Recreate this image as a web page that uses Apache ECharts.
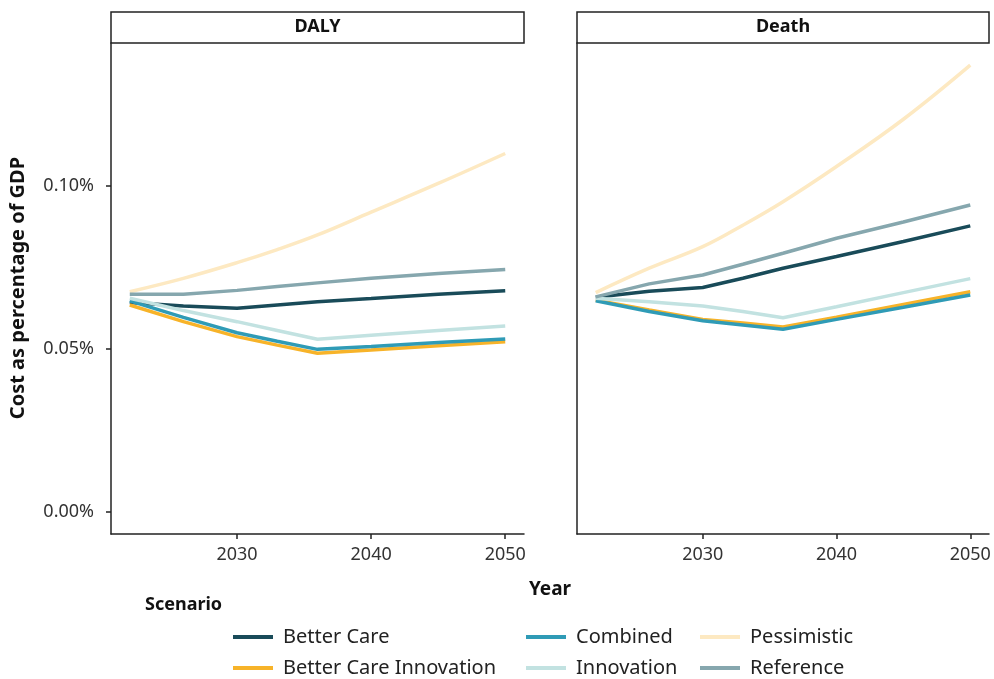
<!DOCTYPE html>
<html>
<head>
<meta charset="utf-8">
<script src="https://cdn.jsdelivr.net/npm/echarts@6/dist/echarts.min.js"></script>
<style>
  html, body { margin: 0; padding: 0; background: #fff; }
  #chart { width: 994px; height: 679px; }
</style>
</head>
<body>
<div id="chart"></div>
<script>
// 数据：年份与各情景（单位：% GDP）
var years = [2022, 2026, 2030, 2033, 2036, 2040, 2045, 2050];
var scenarios = ['Better Care', 'Better Care Innovation', 'Combined', 'Innovation', 'Pessimistic', 'Reference'];
var colors = ['#194b59', '#f7b329', '#2f9bb6', '#c2e2e1', '#fde9c2', '#86a7ae'];

var dalyBetterCare = [0.0643, 0.0632, 0.0625, 0.0635, 0.0645, 0.0655, 0.0668, 0.0679];
var dalyBetterCareInnovation = [0.0635, 0.0584, 0.0538, 0.0512, 0.0487, 0.0497, 0.0510, 0.0522];
var dalyCombined = [0.0648, 0.0597, 0.0550, 0.0524, 0.0499, 0.0508, 0.0520, 0.0531];
var dalyInnovation = [0.0656, 0.0618, 0.0584, 0.0557, 0.0530, 0.0542, 0.0557, 0.0571];
var dalyPessimistic = [0.0676, 0.0717, 0.0765, 0.0805, 0.0850, 0.0920, 0.1008, 0.1100];
var dalyReference = [0.0668, 0.0668, 0.0680, 0.0692, 0.0703, 0.0717, 0.0732, 0.0744];

var deathBetterCare = [0.0659, 0.0677, 0.0689, 0.0717, 0.0748, 0.0784, 0.0830, 0.0878];
var deathBetterCareInnovation = [0.0650, 0.0620, 0.0591, 0.0580, 0.0568, 0.0598, 0.0637, 0.0676];
var deathCombined = [0.0648, 0.0615, 0.0587, 0.0574, 0.0561, 0.0591, 0.0628, 0.0666];
var deathInnovation = [0.0656, 0.0645, 0.0632, 0.0615, 0.0596, 0.0630, 0.0673, 0.0716];
var deathPessimistic = [0.0673, 0.0748, 0.0814, 0.0880, 0.0952, 0.1060, 0.1205, 0.1371];
var deathReference = [0.0660, 0.0700, 0.0727, 0.0760, 0.0794, 0.0840, 0.0890, 0.0942];

var xTicks = [2030, 2040, 2050];
var yTicks = [0, 0.05, 0.10];
var panels = ['DALY', 'Death'];

var dalyData = [dalyBetterCare, dalyBetterCareInnovation, dalyCombined, dalyInnovation, dalyPessimistic, dalyReference];
var deathData = [deathBetterCare, deathBetterCareInnovation, deathCombined, deathInnovation, deathPessimistic, deathReference];

var FONT = '"Noto Sans", sans-serif';

function pairs(vals) {
	var out = [];
	for (var i = 0; i < years.length; i++) {
		out.push([years[i], vals[i]]);
	}
	return out;
}

var series = [];
[dalyData, deathData].forEach(function (set, g) {
	for (var i = 0; i < scenarios.length; i++) {
		series.push({
			name : scenarios[i],
			type : 'line',
			xAxisIndex : g,
			yAxisIndex : g,
			data : pairs(set[i]),
			showSymbol : false,
			// 悲观情景是平滑曲线
			smooth : scenarios[i] === 'Pessimistic' ? 0.4 : false,
			lineStyle : { width : 3.5, color : colors[i] },
			itemStyle : { color : colors[i] },
			emphasis : { disabled : true }
		});
	}
});

function xAxis(idx) {
	return {
		type : 'value',
		gridIndex : idx,
		min : 2020.6,
		max : 2051.4,
		splitLine : { show : false },
		axisLine : { onZero : false, lineStyle : { color : '#222', width : 1.5 } },
		axisTick : { customValues : xTicks, length : 5, lineStyle : { color : '#222', width : 1.5 } },
		axisLabel : {
			customValues : xTicks, color : '#333', fontSize : 18, fontFamily : FONT, margin : 12,
			formatter : function (v) { return String(v); }
		}
	};
}

function yAxis(idx, labels) {
	return {
		type : 'value',
		gridIndex : idx,
		min : -0.00675,
		max : 0.1439,
		splitLine : { show : false },
		axisLine : { show : true, onZero : false, lineStyle : { color : '#222', width : 1.5 } },
		axisTick : { show : labels, customValues : yTicks, length : 5, lineStyle : { color : '#222', width : 1.5 } },
		axisLabel : {
			show : labels,
			customValues : yTicks,
			color : '#333',
			fontSize : 18,
			fontFamily : FONT,
			margin : 17,
			formatter : function (v) { return v.toFixed(2) + '%'; }
		}
	};
}

function legendItem(left, top, name) {
	return {
		left : left,
		top : top,
		padding : 0,
		data : [name],
		icon : 'rect',
		itemWidth : 40,
		itemHeight : 4,
		selectedMode : false,
		textStyle : { fontSize : 20, fontFamily : FONT, color : '#222', padding : [0, 0, 0, 5] }
	};
}

var strips = [];
var stripBox = [[111, 413], [577, 412]];
panels.forEach(function (p, i) {
	strips.push({
		type : 'rect',
		shape : { x : stripBox[i][0], y : 12, width : stripBox[i][1], height : 31 },
		style : { fill : '#fff', stroke : '#222', lineWidth : 1.5 }
	});
	strips.push({
		type : 'text',
		x : stripBox[i][0] + stripBox[i][1] / 2,
		y : 26.5,
		style : { text : p, fontSize : 18, fontWeight : 'bold', fontFamily : FONT, fill : '#111', align : 'center', verticalAlign : 'middle' }
	});
});

var chart = echarts.init(document.getElementById('chart'));
chart.setOption({
	backgroundColor : '#fff',
	animation : false,
	grid : [
		{ left : 111, top : 43, width : 413, height : 491 },
		{ left : 577, top : 43, width : 412, height : 491 }
	],
	xAxis : [xAxis(0), xAxis(1)],
	yAxis : [yAxis(0, true), yAxis(1, false)],
	legend : [
		legendItem(233, 627, 'Better Care'),
		legendItem(233, 658, 'Better Care Innovation'),
		legendItem(526, 627, 'Combined'),
		legendItem(526, 658, 'Innovation'),
		legendItem(700, 627, 'Pessimistic'),
		legendItem(700, 658, 'Reference')
	],
	series : series,
	graphic : strips.concat([
		{
			type : 'text', x : 550, y : 590,
			style : { text : 'Year', fontSize : 19, fontWeight : 'bold', fontFamily : FONT, fill : '#111', align : 'center', verticalAlign : 'middle' }
		},
		{
			type : 'text', x : 18, y : 288, rotation : Math.PI / 2,
			style : { text : 'Cost as percentage of GDP', fontSize : 20, fontWeight : 'bold', fontFamily : FONT, fill : '#111', align : 'center', verticalAlign : 'middle' }
		},
		{
			type : 'text', x : 145, y : 605,
			style : { text : 'Scenario', fontSize : 18, fontWeight : 'bold', fontFamily : FONT, fill : '#111', align : 'left', verticalAlign : 'middle' }
		}
	])
});
</script>
</body>
</html>
